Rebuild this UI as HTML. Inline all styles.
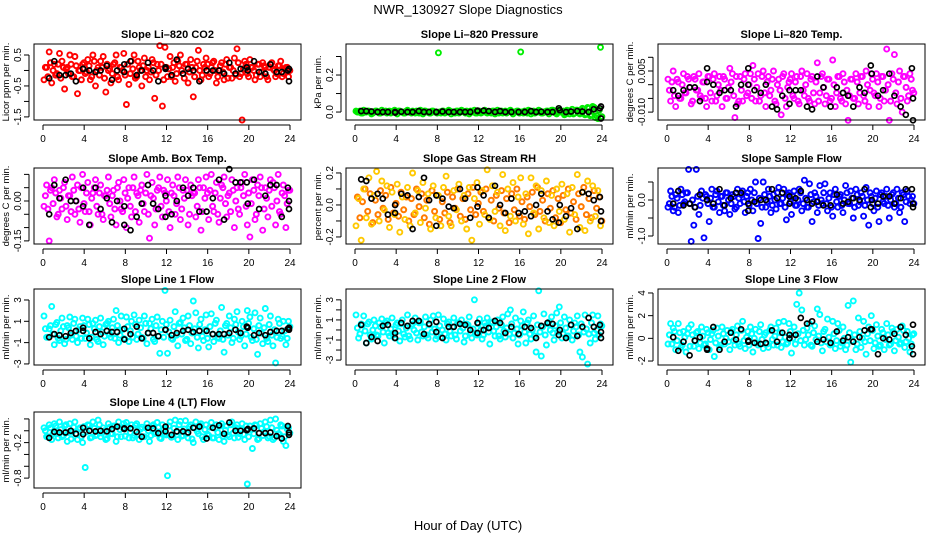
<!DOCTYPE html>
<html><head><meta charset="utf-8"><style>
html,body{margin:0;padding:0;background:#fff;}
svg{display:block;font-family:"Liberation Sans",sans-serif;}
</style></head><body>
<svg id="chart" width="936" height="540" viewBox="0 0 936 540" xmlns="http://www.w3.org/2000/svg">
<rect width="936" height="540" fill="#fff"/>
<text x="468" y="14" text-anchor="middle" font-size="13">NWR_130927  Slope Diagnostics</text>
<text x="468" y="530" text-anchor="middle" font-size="13">Hour of Day (UTC)</text>
<g id="plots"></g>
</svg>
<script>
const hoursC=[0.1,0.35,0.6,0.85,1.1,1.35,1.6,1.85,2.1,2.35,2.6,2.85,3.1,3.35,3.6,3.85,
4.1,4.35,4.6,4.85,5.1,5.35,5.6,5.85,6.1,6.35,6.6,6.85,7.1,7.35,7.6,7.85,
8.1,8.35,8.6,8.85,9.1,9.35,9.6,9.85,10.1,10.35,10.6,10.85,11.1,11.35,11.6,11.85,
12.1,12.35,12.6,12.85,13.1,13.35,13.6,13.85,14.1,14.35,14.6,14.85,15.1,15.35,15.6,15.85,
16.1,16.35,16.6,16.85,17.1,17.35,17.6,17.85,18.1,18.35,18.6,18.85,19.1,19.35,19.6,19.85,
20.1,20.35,20.6,20.85,21.1,21.35,21.6,21.85,22.1,22.35,22.6,22.85,23.1,23.35,23.6,23.85];
const hoursD=[0.23,0.48,0.73,0.98,1.23,1.48,1.73,1.98,2.23,2.48,2.73,2.98,3.23,3.48,3.73,3.98,
4.23,4.48,4.73,4.98,5.23,5.48,5.73,5.98,6.23,6.48,6.73,6.98,7.23,7.48,7.73,7.98,
8.23,8.48,8.73,8.98,9.23,9.48,9.73,9.98,10.23,10.48,10.73,10.98,11.23,11.48,11.73,11.98,
12.23,12.48,12.73,12.98,13.23,13.48,13.73,13.98,14.23,14.48,14.73,14.98,15.23,15.48,15.73,15.98,
16.23,16.48,16.73,16.98,17.23,17.48,17.73,17.98,18.23,18.48,18.73,18.98,19.23,19.48,19.73,19.98,
20.23,20.48,20.73,20.98,21.23,21.48,21.73,21.98,22.23,22.48,22.73,22.98,23.23,23.48,23.73,23.98];
const hoursK=[0.6,1.1,1.6,2.2,2.7,3.2,3.9,4.5,5.1,5.6,6.2,6.7,7.2,7.9,8.5,9.1,9.6,10.2,10.7,11.2,11.9,12.5,13.0,13.6,14.1,14.6,15.2,15.9,16.5,17.1,17.6,18.1,18.7,19.2,19.9,20.5,21.0,21.6,22.1,22.7,23.2,23.8,3.9,7.9,11.9,19.8,23.9,23.9];
const xTicks=[0,4,8,12,16,20,24];

const co2Spread=[-0.3,0.1,0.6,-0.4,0.2,-0.1,0.55,0.3,-0.6,0.1,0.5,-0.2,0.45,-0.75,0.0,0.2,
-0.1,0.35,-0.3,0.5,-0.5,0.1,0.3,0.45,-0.7,0.0,-0.4,0.2,0.5,-0.3,0.1,0.55,
-1.1,-0.45,0.3,0.5,-0.2,0.1,-0.5,0.4,0.0,-0.3,0.35,-0.9,0.2,0.8,-1.15,0.75,
-0.2,0.45,0.1,-0.35,0.3,0.5,-0.1,0.2,-0.4,0.35,-0.85,0.1,0.65,-0.3,0.2,0.4,
-0.2,0.1,0.3,-0.4,0.0,0.25,-0.3,0.35,0.1,-0.25,0.4,0.7,-0.2,-1.6,0.3,-0.1,
0.35,0.1,-0.3,0.2,-0.2,0.25,0.1,-0.3,0.2,0.05,-0.2,0.15,0.3,-0.1,0.1,-0.2];
const co2Core=[0.1,-0.2,0.25,0.0,-0.15,0.2,-0.25,0.1,0.05,-0.1,0.2,-0.2,0.15,0.0,-0.3,0.25,
-0.05,0.15,-0.2,0.3,0.0,-0.15,0.1,-0.25,0.2,0.05,-0.1,0.25,-0.2,0.1,0.0,-0.15,
0.2,-0.1,0.05,-0.25,0.3,0.0,0.15,-0.2,0.1,-0.05,0.25,-0.15,0.0,0.2,-0.3,0.1,
0.05,-0.2,0.25,-0.1,0.15,0.0,-0.25,0.2,-0.05,0.1,-0.2,0.3,0.0,-0.15,0.1,0.2,
-0.1,0.25,0.0,-0.2,0.15,-0.05,0.2,-0.25,0.1,0.0,-0.15,0.25,-0.1,0.05,0.2,-0.2,
0.1,0.0,-0.15,0.2,-0.05,0.15,-0.2,0.1,0.25,0.0,-0.1,0.15,-0.2,0.05,0.1,0.0];
const co2Ref=[-0.25,0.3,-0.15,-0.15,-0.1,-0.35,0.05,0.0,-0.05,0.0,0.15,-0.3,0.0,-0.05,0.3,-0.15,0.0,0.25,0.0,-0.35,0.05,-0.15,0.35,-0.1,0.05,0.0,-0.35,0.0,0.0,0.0,-0.1,0.25,-0.1,0.05,0.0,0.3,-0.05,-0.1,0.2,-0.05,-0.05,0.0,0.05,0.2,0.1,0.1,-0.35,0.05];
const co2Ticks=[0.5,0,-0.5,-1,-1.5];
const co2TickLabels=["0.5","","-0.5","","-1.5"];
const co2Domain=[-1.6,0.855];

const presSpread=[0.005,0,-0.005,0.01,0,0.005,-0.01,0,0.005,-0.005,0.01,0,-0.005,0.005,0,0.01,
-0.01,0.005,0,-0.005,0.01,0,0.005,-0.005,0,0.01,-0.01,0.005,0,-0.005,0.005,0,
0.32,-0.005,0.005,0,0.01,-0.01,0,0.005,-0.005,0.01,0,0.005,-0.01,0,0.01,-0.005,
0.005,0,0.01,-0.005,0,0.005,-0.01,0.01,0,-0.005,0.005,0,0.01,-0.01,0,0.005,
0.325,-0.005,0,0.01,-0.01,0.005,0,0.01,-0.005,0,0.005,-0.01,0.01,0,-0.01,0.005,
0,-0.015,0.01,-0.01,0.015,-0.005,0.01,-0.01,0.02,-0.015,0.025,-0.02,0.03,-0.03,-0.035,0.35];
const presCore=[0,0.005,-0.005,0,0.005,0,-0.005,0.005,0,-0.005,0,0.005,0,-0.005,0.005,0,
0.005,0,-0.005,0.005,0,-0.005,0,0.005,-0.005,0,0.005,0,-0.005,0.005,0,-0.005,
0,0.005,-0.005,0,0.005,0,-0.005,0.005,0,0.005,-0.005,0,0.005,0,-0.005,0.005,
-0.005,0,0.005,0,-0.005,0.005,0,-0.005,0.005,0,-0.005,0.005,0,0,0.005,-0.005,
0,0.005,-0.005,0.005,0,-0.005,0,0.005,-0.005,0,0.005,0,0.01,-0.005,0.01,0,
0.005,-0.01,0.005,0,-0.01,0.01,-0.005,0.005,0.015,-0.01,0.02,-0.015,0.025,-0.02,0.01,-0.025];
const presRef=[0.005,0.005,0.003,0,0,0,0,0.002,0,0,0.005,0,0,0,0.003,0,0,0,0,0,0.005,0.008,0.005,0,0.005,0,0,0,0,0.005,0,0.002,0,0,0.01,0,0.003,0.005,0.003,0,0.015,0.02,-0.003,0,0.008,0.02,-0.035,0.03];
const presTicks=[0,0.1,0.2,0.3];
const presTickLabels=["0.0","","0.2",""];
const presDomain=[-0.043,0.3676];

const tempSpread=[0.002,-0.006,0.005,-0.008,0.001,-0.005,0.004,-0.003,0.002,-0.007,0.003,-0.002,0.004,-0.005,0.001,-0.008,
0.003,-0.006,0.004,-0.004,0.003,-0.008,0.002,-0.005,0.006,0.004,-0.012,-0.007,0.003,-0.006,0.004,-0.003,
0.004,0.007,-0.006,0.004,-0.004,0.005,-0.008,0.003,-0.002,0.005,-0.007,0.002,-0.011,0.004,-0.008,0.001,
0.004,-0.005,0.003,-0.007,0.005,-0.004,0.004,-0.006,0.003,-0.007,0.008,-0.003,0.004,-0.007,0.002,-0.006,
0.009,-0.008,0.003,-0.005,0.004,-0.007,-0.013,0.002,-0.005,0.004,-0.007,0.003,-0.004,0.005,-0.008,0.004,
-0.003,0.004,-0.008,0.003,-0.006,0.013,-0.013,0.004,0.011,-0.007,0.005,-0.010,0.003,-0.006,0.004,-0.002];
const tempCore=[-0.002,0.001,-0.004,0.002,-0.005,0,-0.003,0.003,-0.001,-0.006,0.002,-0.002,-0.004,0.001,-0.005,0.003,
-0.003,0.002,-0.006,0,-0.002,0.003,-0.005,-0.001,0.001,-0.004,0.003,-0.006,-0.002,0.002,-0.004,0,
-0.005,0.002,-0.001,-0.006,0.003,-0.003,0.001,-0.004,0.002,-0.006,0,-0.002,0.003,-0.005,-0.001,0.002,
-0.004,0.001,-0.006,0.003,-0.002,0,-0.005,0.002,-0.003,0.001,-0.006,0.003,-0.001,-0.004,0.002,-0.005,
0,-0.003,0.003,-0.006,0.001,-0.002,-0.004,0.002,-0.005,0.001,-0.003,0.003,-0.006,0,-0.002,0.002,
-0.004,0.001,-0.005,0.003,-0.002,0,-0.006,0.002,-0.003,0.001,-0.005,0.003,-0.001,-0.004,0.002,-0.003];
const tempRef=[-0.002,-0.004,-0.002,-0.001,-0.001,-0.006,0.006,0.0,-0.003,-0.002,-0.002,-0.008,0.0,0.006,-0.002,-0.003,0.0,-0.008,-0.009,-0.004,-0.002,-0.002,-0.002,-0.008,-0.009,0.003,-0.001,-0.008,-0.001,-0.003,-0.004,-0.008,-0.001,-0.003,0.004,-0.004,-0.002,0.004,-0.004,-0.008,-0.011,0.006,0.001,0.0,-0.007,0.007,-0.005,-0.013];
const tempTicks=[0.01,0.005,0,-0.005,-0.01];
const tempTickLabels=["","0.005","","","-0.010"];
const tempDomain=[-0.01288,0.01485];

const ambSpread=[-0.02,0.06,-0.15,0.05,0.08,-0.06,0.04,-0.03,0.07,-0.07,0.02,0.09,-0.05,0.06,-0.08,0.1,
-0.04,0.07,-0.09,0.03,0.08,-0.05,0.06,-0.07,0.02,0.09,-0.06,0.04,-0.09,0.07,-0.03,0.08,
-0.1,0.05,-0.06,0.09,0.03,-0.08,0.06,-0.04,0.1,-0.14,0.07,-0.09,0.04,0.09,-0.06,0.03,
0.08,-0.1,0.06,-0.05,0.09,-0.07,0.04,0.08,-0.09,0.06,0.03,-0.06,0.08,-0.11,0.05,0.09,
-0.07,0.1,-0.04,0.07,-0.08,0.06,0.09,-0.06,0.03,0.08,-0.1,0.05,-0.05,0.07,0.1,-0.09,
-0.135,0.08,-0.07,0.06,0.09,-0.11,0.05,-0.06,0.08,0.07,-0.09,0.1,-0.05,0.06,-0.1,0.04];
const ambCore=[0.02,-0.03,0.04,-0.01,0.03,-0.05,0.01,0.05,-0.02,0.02,-0.04,0.04,0,-0.03,0.05,-0.01,
0.03,-0.04,0.01,0.05,-0.02,0.03,-0.05,0.02,0.04,-0.01,0.02,-0.03,0.05,0,-0.04,0.03,
0.01,-0.02,0.05,-0.04,0.02,0.04,-0.01,0.03,-0.05,0.02,0.01,-0.03,0.05,-0.02,0.04,0,
-0.04,0.03,0.02,-0.01,0.05,-0.03,0.01,0.04,-0.05,0.02,0.03,-0.02,0.05,-0.04,0.01,0.03,
0.04,-0.02,0.03,-0.05,0.01,0.05,-0.01,0.02,-0.04,0.04,0,-0.03,0.05,0.02,-0.02,0.03,
-0.01,0.04,-0.05,0.02,0.05,-0.03,0.01,0.04,-0.02,0.05,0,-0.04,0.03,0.02,-0.01,0.04];
const ambRef=[-0.05,0.06,0.01,0.08,0,0,-0.02,-0.09,0.05,-0.03,0.01,-0.08,0,-0.09,-0.11,-0.06,-0.01,0.06,-0.01,-0.03,-0.06,-0.05,0,0.05,0.02,0.05,-0.04,-0.04,0.01,0.08,-0.07,0.12,0.07,0.07,-0.01,0.08,-0.03,0.02,0.06,0.06,-0.06,0.05,0.05,-0.02,0.02,0.07,0,-0.03];
const ambTicks=[0.1,0.05,0,-0.05,-0.1,-0.15];
const ambTickLabels=["","","0.00","","","-0.15"];
const ambDomain=[-0.1617,0.124];

const rhSpread=[-0.13,0.04,-0.22,0.1,-0.08,0.17,-0.12,0.06,0.21,-0.1,0.15,-0.03,0.12,-0.14,0.08,-0.06,
0.13,-0.17,0.05,-0.09,0.11,-0.13,0.2,-0.05,0.09,-0.11,0.14,-0.02,0.07,-0.15,0.12,-0.08,
0.06,-0.13,0.11,0.18,-0.07,-0.13,0.09,-0.03,0.13,-0.1,0.06,-0.15,0.11,-0.22,0.04,0.14,
-0.12,0.09,-0.06,0.22,-0.09,0.12,-0.04,0.08,-0.13,0.19,-0.16,0.1,-0.07,0.14,-0.1,0.05,
0.17,-0.12,0.07,-0.18,0.17,-0.05,0.12,-0.15,0.09,-0.08,0.15,-0.11,0.06,-0.13,0.1,-0.04,
0.13,-0.09,0.07,-0.17,0.11,-0.06,0.19,-0.14,0.08,-0.16,0.15,-0.1,0.12,-0.07,0.09,-0.13];
const rhCore=[0.05,-0.08,0.02,0.1,-0.04,0.07,-0.11,0.03,-0.06,0.09,-0.02,0.06,-0.09,0.11,-0.05,0.01,
-0.07,0.08,-0.03,0.05,-0.1,0.04,-0.06,0.1,-0.01,0.07,-0.08,0.03,-0.12,0.09,-0.04,0.06,
-0.09,0.02,-0.05,0.08,-0.11,0.05,-0.02,0.1,-0.07,0.04,-0.09,0.07,-0.03,0.11,-0.06,0.01,
0.08,-0.04,0.1,-0.08,0.03,-0.1,0.06,-0.02,0.09,-0.05,0.04,-0.11,0.07,-0.03,0.1,-0.07,
0.02,-0.09,0.05,-0.01,0.08,-0.06,0.11,-0.04,0.03,-0.1,0.07,-0.02,0.09,-0.08,0.04,-0.11,
0.06,-0.03,0.1,-0.05,0.02,-0.09,0.07,-0.01,0.11,-0.06,0.04,-0.08,0.09,-0.02,0.05,-0.1];
const rhRef=[0.16,0.15,0.04,0.07,0.04,-0.06,0.0,0.07,0.06,-0.15,0.05,0.17,0.03,0.06,0.04,-0.01,-0.02,0.1,0.04,-0.08,0.11,0.06,-0.08,0.12,0.0,-0.05,0.04,-0.05,-0.04,-0.07,0.0,0.07,-0.04,-0.09,0.0,-0.07,-0.02,-0.15,0.08,0.07,0.03,0.05,-0.05,-0.13,-0.01,-0.11,-0.04,-0.1];
const rhTicks=[0.2,0.1,0,-0.1,-0.2];
const rhTickLabels=["0.2","","0.0","","-0.2"];
const rhDomain=[-0.244,0.231];

const sfSpread=[-0.2,0.25,-0.3,0.15,-0.35,0.3,-0.1,0.2,0.85,-1.15,-0.7,0.85,-0.4,0.25,-1.05,0.1,
-0.6,0.3,-0.2,0.25,-0.35,0.1,-0.3,0.2,-0.4,0.15,-0.25,0.3,-0.1,0.25,-0.35,0.2,
0.3,-0.3,0.5,-1.07,-0.65,0.5,-0.2,0.3,-0.35,0.15,-0.25,0.35,-0.1,0.3,-0.55,0.2,
-0.4,0.25,-0.15,0.3,-0.3,0.55,-0.2,0.45,-0.6,0.2,-0.35,0.4,-0.1,0.45,-0.3,0.2,
-0.45,0.3,-0.2,0.15,-0.35,0.4,-0.1,0.25,-0.5,0.3,-0.15,0.2,-0.45,0.35,-0.7,0.1,
-0.3,0.25,-0.6,0.2,-0.1,0.3,-0.5,0.15,-0.2,0.3,-0.35,0.2,-0.6,0.25,-0.1,0.1];
const sfCore=[-0.1,0.1,-0.2,0.05,-0.15,0.15,-0.05,0.2,-0.1,0.0,-0.2,0.1,-0.15,0.05,0.15,-0.1,
0.05,-0.2,0.15,-0.05,0.1,-0.15,0.2,0.0,-0.1,0.1,-0.2,0.05,0.15,-0.05,0.1,-0.15,
0.0,0.2,-0.1,0.05,-0.2,0.15,-0.05,0.1,-0.15,0.0,0.2,-0.1,0.05,-0.2,0.15,-0.05,
0.1,-0.15,0.0,0.2,-0.1,0.05,-0.2,0.15,-0.05,0.1,-0.15,0.0,0.2,-0.1,0.05,-0.2,
0.15,-0.05,0.1,-0.15,0.0,0.2,-0.1,0.05,-0.2,0.15,-0.05,0.1,-0.15,0.0,0.2,-0.1,
0.05,-0.2,0.15,-0.05,0.1,-0.15,0.0,0.2,-0.1,0.05,-0.2,0.15,-0.05,0.1,0.0,-0.1];
const sfRef=[-0.1,0.25,-0.15,-0.1,-0.2,0.15,0.0,-0.1,0.3,-0.15,0.05,0.2,0.2,-0.1,-0.05,0.0,0.0,0.3,0.05,0.2,-0.1,0.05,0.25,0.0,-0.1,-0.05,-0.15,-0.15,0.15,-0.1,-0.05,0.05,0.0,0.3,0.0,-0.1,0.1,0.1,-0.1,0.05,0.3,0.3,0.0,-0.3,0.1,-0.2,-0.2,-0.1];
const sfTicks=[0.5,0,-0.5,-1];
const sfTickLabels=["","0.0","","-1.0"];
const sfDomain=[-1.222,0.889];

const l1Spread=[1.5,-0.5,0.3,2.4,-1.2,0.9,-0.8,1.3,-1.1,0.6,1.4,-0.7,1.2,-1.0,0.5,1.3,
-0.6,1.2,-1.2,0.8,1.1,-0.9,1.3,-1.2,0.7,1.0,-0.5,1.2,2.0,-1.0,1.5,-0.6,
1.4,-0.9,1.0,1.6,-0.7,1.1,-0.5,1.5,-1.1,0.8,1.2,-0.9,1.4,-2.0,1.0,3.9,
-2.0,1.1,-0.7,1.9,-1.3,0.9,1.3,-0.8,1.5,-1.1,2.9,1.8,-1.5,1.2,-0.8,1.6,
-1.4,1.7,-0.9,1.1,-0.6,2.3,-1.9,0.8,1.5,-1.0,1.2,1.9,-0.7,1.0,-1.3,2.0,
1.4,-0.8,1.8,-2.1,1.3,-1.1,2.2,-0.9,1.5,-1.3,-2.9,1.2,-0.6,1.0,-1.2,1.0];
const l1Core=[0.3,-0.5,0.6,-0.2,0.7,-0.6,0.1,0.5,-0.7,0.4,-0.3,0.8,-0.4,0.2,-0.6,0.6,
-0.1,0.7,-0.5,0.3,-0.7,0.5,0.0,-0.4,0.8,-0.2,0.4,-0.6,0.6,-0.3,0.2,-0.7,
0.5,0.1,-0.5,0.7,-0.2,0.4,-0.6,0.8,-0.1,0.3,-0.7,0.6,-0.4,0.2,-0.5,0.7,
0.0,-0.6,0.5,-0.3,0.8,-0.2,0.4,-0.7,0.6,-0.1,0.3,-0.5,0.7,-0.4,0.2,-0.6,
0.5,-0.2,0.8,-0.5,0.1,-0.7,0.6,-0.3,0.4,-0.6,0.7,0.0,-0.4,0.5,-0.2,0.8,
-0.5,0.3,-0.7,0.6,-0.1,0.4,-0.6,0.7,-0.3,0.2,-0.5,0.8,-0.4,0.1,-0.6,0.5];
const l1Ref=[-0.5,-0.2,-0.3,-0.4,-0.1,0.1,0.1,-0.6,0.0,-0.2,0.1,0.0,0.0,0.3,-0.2,0.5,-0.6,-0.1,-0.1,-0.4,0.2,-0.3,-0.1,0.1,0.2,0.0,0.1,0.1,-0.2,-0.2,-0.2,-0.1,0.2,-0.1,0.4,-0.3,-0.1,-0.3,0.0,0.1,0.1,0.3,0.4,-0.7,0.2,0.5,0.2,0.4];
const l1Ticks=[3,1,-1,-3];
const l1TickLabels=["3","1","-1","-3"];
const l1Domain=[-3.1,4.03];

const l2Spread=[1.5,-0.8,0.6,1.4,-1.3,0.8,-0.9,1.0,-0.5,0.7,1.1,-1.3,0.9,-0.6,1.2,-0.8,
0.7,-1.1,1.0,-0.7,1.5,-0.9,0.6,1.2,-1.0,0.8,-0.6,1.3,-0.8,1.0,1.4,-0.9,
1.5,-0.7,1.1,-1.0,0.8,-0.6,1.2,-0.9,0.7,1.0,-1.2,0.6,1.3,-0.8,3.0,-0.5,
1.1,-0.9,0.7,1.2,-1.4,0.8,-0.6,1.0,-0.9,1.3,-0.7,1.6,2.0,-0.8,1.2,-1.4,
0.9,1.8,-1.3,1.0,-0.9,1.4,-2.2,3.9,-2.6,1.6,-1.5,0.8,1.3,-1.0,1.7,2.3,
-0.8,1.3,-0.6,1.0,-1.0,0.7,1.4,-2.2,-2.7,1.5,-3.4,-1.3,1.5,-0.9,1.4,0.6];
const l2Core=[0.2,-0.4,0.5,-0.1,0.6,-0.5,0.0,0.4,-0.6,0.3,-0.2,0.7,-0.3,0.1,-0.5,0.5,
-0.1,0.6,-0.4,0.2,-0.6,0.4,0.0,-0.3,0.7,-0.2,0.3,-0.5,0.5,-0.2,0.1,-0.6,
0.4,0.0,-0.4,0.6,-0.1,0.3,-0.5,0.7,-0.1,0.2,-0.6,0.5,-0.3,0.1,-0.4,0.6,
0.0,-0.5,0.4,-0.2,0.7,-0.1,0.3,-0.6,0.5,-0.1,0.2,-0.4,0.6,-0.3,0.1,-0.5,
0.4,-0.2,0.7,-0.4,0.0,-0.6,0.5,-0.2,0.3,-0.5,0.6,0.0,-0.3,0.4,-0.2,0.7,
-0.4,0.2,-0.6,0.5,-0.1,0.3,-0.5,0.6,-0.2,0.1,-0.4,0.7,-0.3,0.0,-0.5,0.4];
const l2Ref=[0.5,-1.3,-0.7,-1.1,0.4,0.5,-0.3,0.7,0.4,0.9,0.9,-0.4,0.6,0.8,-0.8,0.3,0.3,0.6,0.5,0.0,-0.3,0.0,0.2,0.9,0.7,-0.3,0.3,-0.4,0.3,0.2,-0.8,0.4,0.7,0.6,0.0,-0.8,0.5,-0.6,0.3,1.2,0.3,0.5,-0.8,-0.2,0.7,-0.5,-0.2,-0.8];
const l2Ticks=[3,2,1,0,-1,-2,-3];
const l2TickLabels=["3","","1","","-1","","-3"];
const l2Domain=[-3.49,4.08];

const l3Spread=[-0.5,1.3,0.9,-1.0,1.3,-0.8,0.6,-1.2,0.9,1.2,-0.7,0.5,-0.9,1.0,-0.6,0.8,
-1.0,0.4,-1.6,0.9,-0.8,1.0,-0.5,0.7,-1.0,0.8,-0.6,1.1,-0.7,1.5,-0.9,0.6,
1.0,-1.2,0.8,-0.6,1.2,-0.9,0.5,-0.8,1.0,-0.6,0.9,1.4,-0.8,1.5,-0.5,1.3,
-1.3,1.0,3.0,4.0,2.5,-0.6,0.9,1.3,-0.7,1.1,2.6,2.1,-1.1,0.8,1.7,-0.6,
1.5,-0.9,1.3,-0.7,1.0,-1.0,2.9,-2.1,3.3,-1.0,1.8,-0.8,1.5,-1.4,1.0,2.0,
-0.9,1.2,-0.7,0.8,-1.0,1.3,-0.6,0.9,-1.1,0.8,-0.5,1.1,-0.8,0.6,-1.2,0.3];
const l3Core=[0.3,-0.5,0.6,-0.2,0.5,-0.6,0.1,0.4,-0.7,0.3,-0.2,0.6,-0.4,0.2,-0.5,0.5,
-0.1,0.7,-0.4,0.2,-0.6,0.4,0.0,-0.3,0.6,-0.2,0.3,-0.5,0.7,-0.2,0.1,-0.6,
0.4,0.0,-0.4,0.6,-0.1,0.3,-0.5,0.7,-0.1,0.2,-0.6,0.5,-0.3,0.1,-0.4,0.6,
0.0,-0.5,0.4,-0.2,0.7,-0.1,0.3,-0.6,0.5,-0.1,0.2,-0.4,0.6,-0.3,0.1,-0.5,
0.4,-0.2,0.7,-0.4,0.0,-0.6,0.5,-0.2,0.3,-0.5,0.6,0.0,-0.3,0.4,-0.2,0.7,
-0.4,0.2,-0.6,0.5,-0.1,0.3,-0.5,0.6,-0.2,0.1,-0.4,0.7,-0.3,0.0,-0.5,0.4];
const l3Ref=[0.1,-1.1,-0.3,-1.5,-0.2,0.1,-0.9,1.0,-1.0,-0.3,0.5,-0.1,0.8,-0.3,-0.4,-0.5,-0.4,0.7,-0.3,0.5,0.3,0.3,1.8,1.3,1.5,-0.3,-0.1,-0.4,0.6,-0.2,0.1,-0.3,0.1,0.7,0.8,-1.4,0.0,-0.1,0.4,1.0,0.3,-0.7,-1.0,-0.2,0.0,0.8,1.2,-1.4];
const l3Ticks=[4,2,0,-2];
const l3TickLabels=["4","2","0","-2"];
const l3Domain=[-2.35,4.35];

const l4Spread=[0.05,-0.1,0.1,-0.15,0.12,-0.05,0.15,-0.1,0.08,-0.18,0.12,-0.02,0.15,-0.15,0.05,-0.2,
-0.62,0.1,-0.12,0.15,-0.08,0.18,-0.1,0.05,-0.15,0.12,-0.05,0.08,-0.18,0.15,-0.1,0.12,
0.14,-0.12,0.1,-0.08,0.12,-0.15,0.06,-0.1,0.12,-0.18,0.08,-0.05,0.14,-0.12,0.1,-0.05,
-0.76,0.15,-0.1,0.18,-0.15,0.16,-0.08,0.17,-0.12,0.1,-0.2,0.15,-0.05,0.12,-0.15,0.1,
-0.08,0.14,-0.12,0.1,-0.15,0.12,-0.18,0.08,-0.1,0.15,-0.12,0.1,-0.05,0.12,-0.15,-0.9,
0.08,-0.3,0.1,-0.15,0.12,-0.08,0.15,-0.12,0.18,-0.15,0.2,-0.05,0.1,-0.18,-0.25,0.05];
const l4Core=[0.0,-0.1,0.05,-0.05,0.08,-0.12,0.02,-0.08,0.1,-0.03,-0.14,0.06,-0.06,0.03,-0.1,0.07,
-0.02,0.09,-0.11,0.04,-0.07,0.1,-0.04,0.0,-0.13,0.06,-0.05,0.08,-0.1,0.02,0.05,-0.09,
0.07,-0.03,-0.12,0.09,-0.06,0.03,-0.1,0.05,0.0,-0.08,0.1,-0.04,0.06,-0.13,0.02,-0.07,
0.08,-0.11,0.04,-0.02,0.1,-0.09,0.03,-0.05,0.07,-0.14,0.05,-0.01,0.09,-0.1,0.02,-0.06,
0.06,-0.12,0.04,-0.03,0.08,-0.09,0.01,-0.07,0.1,-0.04,0.05,-0.11,0.03,-0.06,0.08,-0.1,
0.02,-0.05,0.09,-0.13,0.04,-0.02,0.07,-0.09,0.05,-0.12,0.01,-0.06,0.08,-0.1,0.03,-0.04];
const l4Ref=[-0.12,-0.02,-0.03,-0.03,0.0,-0.05,0.05,0.0,-0.01,0.0,-0.01,0.03,0.07,0.04,0.04,-0.02,-0.1,0.05,0.04,-0.04,-0.01,-0.07,-0.01,-0.01,-0.03,0.05,0.07,-0.13,0.05,0.09,-0.05,0.14,0.0,0.0,0.03,0.04,-0.04,-0.04,-0.03,-0.09,-0.13,0.08,-0.06,0.03,0.07,0.01,-0.03,-0.07];
const l4Ticks=[0.2,0,-0.2,-0.4,-0.6,-0.8];
const l4TickLabels=["","","-0.2","","","-0.8"];
const l4Domain=[-0.967,0.317];

const NS="http://www.w3.org/2000/svg";
const colLeft=[34,346,658], rowTop=[44,168,289,412], boxW=267, boxH=76;
const panels=[
 {name:"co2",title:"Slope Li\u2013820 CO2",ylab:"Licor ppm per min.",c:0,r:0,col:"#ff0000",core:"#ff0000",s:co2Spread,k:co2Core,ref:co2Ref,t:co2Ticks,tl:co2TickLabels,d:co2Domain},
 {name:"pressure",title:"Slope Li\u2013820 Pressure",ylab:"kPa per min.",c:1,r:0,col:"#00ee00",core:"#00dd00",s:presSpread,k:presCore,ref:presRef,t:presTicks,tl:presTickLabels,d:presDomain},
 {name:"temp",title:"Slope Li\u2013820 Temp.",ylab:"degrees C per min.",c:2,r:0,col:"#ff00ff",core:"#ff00ff",s:tempSpread,k:tempCore,ref:tempRef,t:tempTicks,tl:tempTickLabels,d:tempDomain},
 {name:"amb-box-temp",title:"Slope Amb. Box Temp.",ylab:"degrees C per min.",c:0,r:1,col:"#ff00ff",core:"#ff00ff",s:ambSpread,k:ambCore,ref:ambRef,t:ambTicks,tl:ambTickLabels,d:ambDomain},
 {name:"gas-stream-rh",title:"Slope Gas Stream RH",ylab:"percent per min.",c:1,r:1,col:"#ffc800",core:"#ff7a00",s:rhSpread,k:rhCore,ref:rhRef,t:rhTicks,tl:rhTickLabels,d:rhDomain},
 {name:"sample-flow",title:"Slope Sample Flow",ylab:"ml/min per min.",c:2,r:1,col:"#0000ff",core:"#0000ff",s:sfSpread,k:sfCore,ref:sfRef,t:sfTicks,tl:sfTickLabels,d:sfDomain},
 {name:"line1-flow",title:"Slope Line 1 Flow",ylab:"ml/min per min.",c:0,r:2,col:"#00ffff",core:"#00ffff",s:l1Spread,k:l1Core,ref:l1Ref,t:l1Ticks,tl:l1TickLabels,d:l1Domain},
 {name:"line2-flow",title:"Slope Line 2 Flow",ylab:"ml/min per min.",c:1,r:2,col:"#00ffff",core:"#00ffff",s:l2Spread,k:l2Core,ref:l2Ref,t:l2Ticks,tl:l2TickLabels,d:l2Domain},
 {name:"line3-flow",title:"Slope Line 3 Flow",ylab:"ml/min per min.",c:2,r:2,col:"#00ffff",core:"#00ffff",s:l3Spread,k:l3Core,ref:l3Ref,t:l3Ticks,tl:l3TickLabels,d:l3Domain},
 {name:"line4-flow",title:"Slope Line 4 (LT) Flow",ylab:"ml/min per min.",c:0,r:3,col:"#00ffff",core:"#00ffff",s:l4Spread,k:l4Core,ref:l4Ref,t:l4Ticks,tl:l4TickLabels,d:l4Domain}
];
function mk(tag,attrs,parent){const e=document.createElementNS(NS,tag);for(const k in attrs)e.setAttribute(k,attrs[k]);parent.appendChild(e);return e;}
const root=document.getElementById("plots");
panels.forEach(p=>{
 const L=colLeft[p.c], T=rowTop[p.r], B=T+boxH, R=L+boxW;
 const xs=h=>L+9+h*(247/24);
 const ys=v=>B-(v-p.d[0])/(p.d[1]-p.d[0])*boxH;
 const g=mk("g",{},root);
 
 
 const title=mk("text",{x:(L+R)/2,y:T-6,"text-anchor":"middle","font-size":"11","font-weight":"bold"},g);
 title.textContent=p.title;
 
 
 const yl=mk("text",{transform:`translate(${L-25},${(T+B)/2}) rotate(-90)`,"text-anchor":"middle","font-size":"9.5"},g);
 yl.textContent=p.ylab;
 
 
 const pts=mk("g",{fill:"none"},g);
 
 
 const draw=(hs,vs,color,nm,sw)=>{
  vs.forEach((v,i)=>{
   const c=mk("circle",{cx:xs(hs[i]).toFixed(1),cy:ys(v).toFixed(1),r:"2.5",stroke:color,"stroke-width":sw},pts);
   
   
  });
 };
 draw(hoursD,p.k,p.core,p.name+'-core-point',"2");
 draw(hoursC,p.s,p.col,p.name+'-point',"1.9");
 draw(hoursK,p.ref,"#000",p.name+'-reference-point',"1.7");
 const box=mk("rect",{x:L,y:T,width:boxW,height:boxH,fill:"none",stroke:"#000","stroke-width":"1"},g);
 
 
 const xa=mk("g",{stroke:"#000","stroke-width":"1"},g);
 
 
 mk("line",{x1:xs(xTicks[0]),x2:xs(xTicks[xTicks.length-1]),y1:B+5,y2:B+5},xa);
 xTicks.forEach(t=>{
  mk("line",{x1:xs(t),x2:xs(t),y1:B+5,y2:B+10},xa);
  const tx=mk("text",{x:xs(t),y:B+22,"text-anchor":"middle","font-size":"10",stroke:"none",fill:"#000"},xa);
  tx.textContent=String(t);
  
  
 });
 const ya=mk("g",{stroke:"#000","stroke-width":"1"},g);
 
 
 mk("line",{x1:L-5,x2:L-5,y1:ys(p.t[0]),y2:ys(p.t[p.t.length-1])},ya);
 p.t.forEach((t,i)=>{
  mk("line",{x1:L-10,x2:L-5,y1:ys(t),y2:ys(t)},ya);
  if(p.tl[i]){
   const tx=mk("text",{transform:`translate(${L-13},${ys(t)}) rotate(-90)`,"text-anchor":"middle","font-size":"10",stroke:"none",fill:"#000"},ya);
   tx.textContent=p.tl[i];
   
   
  }
 });
});
</script>
</body></html>
